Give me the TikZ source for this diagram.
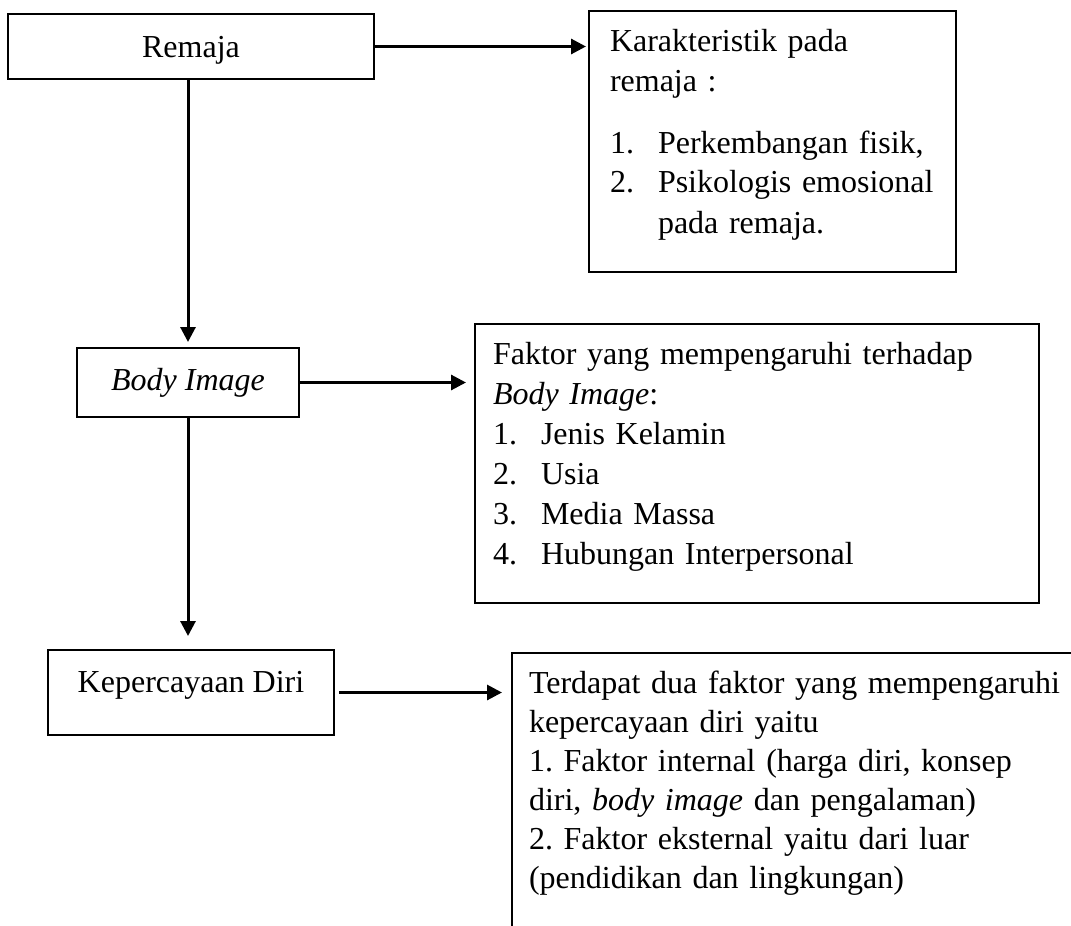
\documentclass[tikz,border=0pt]{standalone}
\usepackage{fontspec}
\setmainfont{Liberation Serif}
\usetikzlibrary{arrows.meta,positioning}
\frenchspacing

\begin{document}
\begin{tikzpicture}[x=1pt,y=-1pt,
  box/.style={draw,line width=2pt,inner sep=0pt,font=\fontsize{32}{40}\selectfont},
  single/.style={box,align=center},
  multi/.style={box,anchor=north west,align=left,inner ysep=0pt,text height=40pt},
  arr/.style={-{Triangle[length=15pt,width=15pt]},line width=3pt}]
\useasboundingbox (0,0) rectangle (1071,926);
\clip (0,0) rectangle (1071,926);
\node[single,minimum width=366pt,text height=43pt,text depth=22pt] (remaja) at (191,46.5) {Remaja};
\node[multi,inner xsep=21pt,text width=325pt,text depth=221pt] (karak) at (588,10)
  {Karakteristik pada\\ remaja :\\[22pt]
   \makebox[48pt][l]{1.}Perkembangan fisik,\\
   \makebox[48pt][l]{2.}Psikologis emosional\\
   \hspace*{48pt}pada remaja.};
\node[single,minimum width=222pt,text height=42pt,text depth=27pt] (body) at (188,382.5) {\textit{Body Image}};
\node[multi,inner xsep=18pt,text width=528pt,text depth=239pt] (faktor) at (474,323)
  {Faktor yang mempengaruhi terhadap\\ \textit{Body Image}:\\
   \makebox[48pt][l]{1.}Jenis Kelamin\\
   \makebox[48pt][l]{2.}Usia\\
   \makebox[48pt][l]{3.}Media Massa\\
   \makebox[48pt][l]{4.}Hubungan Interpersonal};
\node[single,minimum width=286pt,text height=42pt,text depth=43pt] (kep) at (191,692.5) {Kepercayaan Diri};
\node[multi,inner xsep=17pt,text width=700pt,text depth=320pt,
  font=\fontsize{32}{39}\selectfont] (terdapat) at (511,652)
  {Terdapat dua faktor yang mempengaruhi\\ kepercayaan diri yaitu\\
   1. Faktor internal (harga diri, konsep\\
   diri, \textit{body image} dan pengalaman)\\
   2. Faktor eksternal yaitu dari luar\\
   (pendidikan dan lingkungan)};
\draw[arr,shorten >=2pt] (remaja.east) -- (remaja.east -| karak.west);
\draw[arr,shorten >=5pt] (remaja.south -| body.north) -- (body.north);
\draw[arr,shorten >=8pt] (body.east) -- (body.east -| faktor.west);
\draw[arr,shorten >=13pt] (body.south) -- (body.south |- kep.north);
\draw[arr,shorten <=4pt,shorten >=9pt] (kep.east) -- (kep.east -| terdapat.west);
\end{tikzpicture}
\end{document}
